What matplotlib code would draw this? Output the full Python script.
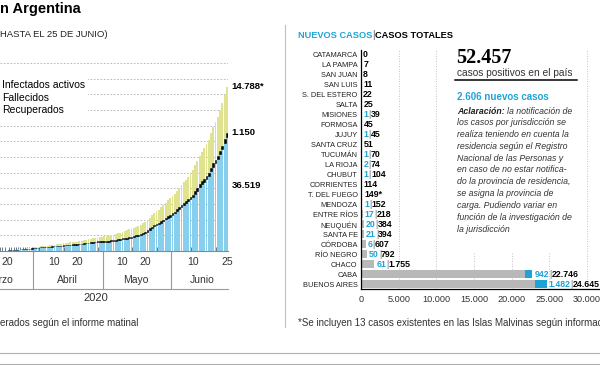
import matplotlib
matplotlib.use("Agg")
import matplotlib.pyplot as plt
from matplotlib.patches import Patch, Rectangle

plt.rcParams['font.family'] = ['Liberation Sans', 'DejaVu Sans']

AZUL = '#88cfee'
AMARILLO = '#dfe38f'
AZUL_TXT = '#1fa3d6'
GRIS = '#b8b8b8'

# acumulados diarios, del 17 de marzo al 25 de junio (dia 0 = 1 de marzo)
dia_inicio = 16
casos = [79, 97, 128, 158, 225, 266, 301, 387, 502, 589, 690, 745, 820, 966, 1054,
         1133, 1265, 1353, 1451, 1554, 1628, 1715, 1795, 1894, 1975, 2142, 2208, 2277, 2443, 2571,
         2669, 2758, 2839, 2941, 3031, 3144, 3288, 3435, 3607, 3780, 3892, 4003, 4127, 4285, 4428,
         4532, 4681, 4783, 4887, 5020, 5208, 5371, 5611, 5776, 6034, 6278, 6563, 6879, 7134, 7479,
         7805, 8068, 8371, 8809, 9283, 9931, 10649, 11353, 12076, 12628, 13228, 13933, 14702, 15419,
         16214, 16838,
         17415, 18319, 19268, 20197, 21037, 22020, 22794, 23620, 24761, 25987, 27373, 28764, 30295,
         31577, 32785, 34159, 35552, 37510, 39570, 41204, 42785, 44931, 47216, 49851, 52457]
fallecidos = [2, 2, 3, 3, 4, 4, 6, 8, 9, 13, 18, 19, 23, 24, 27,
              36, 39, 43, 44, 48, 56, 63, 72, 82, 83, 90, 95, 97, 102, 122,
              129, 132, 136, 137, 147, 152, 165, 176, 179, 185, 192, 197, 207, 214, 218,
              225, 237, 246, 260, 264, 273, 282, 293, 300, 305, 314, 319, 329, 353, 356,
              363, 373, 382, 393, 403, 416, 433, 445, 452, 467, 484, 500, 508, 520, 528, 539,
              556, 569, 583, 608, 632, 648, 664, 693, 717, 735, 765, 784, 815, 833, 854,
              878, 913, 948, 979, 992, 1011, 1043, 1078, 1116, 1150]
recuperados = [3, 3, 3, 3, 3, 3, 51, 52, 63, 72, 72, 91, 179, 228, 240,
               248, 256, 266, 279, 325, 338, 358, 375, 418, 440, 468, 515, 525, 596, 609,
               631, 685, 709, 737, 840, 872, 919, 976, 1030, 1075, 1107, 1140, 1192, 1245, 1256,
               1354, 1442, 1524, 1601, 1659, 1757, 1837, 1862, 1948, 2020, 2097, 2266, 2385, 2569, 2625,
               2741, 2872, 2893, 3035, 3172, 3357, 3445, 3635, 3749, 3946, 4167, 4349, 4688, 4788,
               5018, 5336,
               5381, 5716, 5896, 6180, 6490, 6666, 6826, 7022, 7489, 7991, 8332, 8779, 9070, 9346, 9843,
               10283, 10661, 11130, 11637, 12186, 12547, 13072, 13598, 14163, 14788]

dias_ticks = [19, 40, 50, 70, 80, 101, 116]
dias_labels = ['20', '10', '20', '10', '20', '10', '25']
meses = ['Marzo', 'Abril', 'Mayo', 'Junio']
meses_centro = [15.5, 45.5, 76, 105]
meses_limites = [30.5, 61.5, 91.5]

provincias = ['CATAMARCA', 'LA PAMPA', 'SAN JUAN', 'SAN LUIS', 'S. DEL ESTERO', 'SALTA',
              'MISIONES', 'FORMOSA', 'JUJUY', 'SANTA CRUZ', 'TUCUMÁN', 'LA RIOJA', 'CHUBUT',
              'CORRIENTES', 'T. DEL FUEGO', 'MENDOZA', 'ENTRE RÍOS', 'NEUQUÉN', 'SANTA FE',
              'CÓRDOBA', 'RÍO NEGRO', 'CHACO', 'CABA', 'BUENOS AIRES']
totales = [0, 7, 8, 11, 22, 25, 39, 45, 45, 51, 70, 74, 104, 114, 149, 152, 218, 384, 394,
           607, 792, 1755, 22746, 24645]
nuevos = [0, 0, 0, 0, 0, 0, 1, 0, 1, 0, 1, 2, 1, 0, 0, 1, 17, 20, 21, 6, 50, 61, 942, 1482]

aclaracion = ['la notificación de', 'los casos por jurisdicción se', 'realiza teniendo en cuenta la',
              'residencia según el Registro', 'Nacional de las Personas y',
              'en caso de no estar notifica-', 'do la provincia de residencia,',
              'se asigna la provincia de', 'carga. Pudiendo variar en',
              'función de la investigación de', 'la jurisdicción']


def fmt(v):
    return f"{v:,}".replace(',', '.')


W, H = 600, 365


def box(x0, y0, x1, y1):
    return [x0 / W, 1 - y1 / H, (x1 - x0) / W, (y1 - y0) / H]


fig = plt.figure(figsize=(6, 3.65), dpi=100)

# ---- evolucion ----
ax = fig.add_axes(box(0, 63, 228, 251))
dias = [dia_inicio + i for i in range(len(casos))]
activos = [c - f - r for c, f, r in zip(casos, fallecidos, recuperados)]
base2 = [a + f for a, f in zip(activos, fallecidos)]
ax.bar(dias, activos, width=0.8, color=AZUL, linewidth=0)
ax.bar(dias, fallecidos, bottom=activos, width=0.8, color='black', edgecolor='black', linewidth=0.4)
ax.bar(dias, recuperados, bottom=base2, width=0.8, color=AMARILLO, linewidth=0)
ax.set_xlim(16.9, 116.5)
ax.set_ylim(0, 60000)
ax.set_yticks(range(5000, 60001, 5000))
ax.set_yticklabels([])
ax.tick_params(axis='y', length=0)
ax.yaxis.grid(True, color='#b0b0b0', linestyle=(0, (2, 2)), linewidth=0.6)
ax.set_axisbelow(True)
for s in ['left', 'right', 'top']:
    ax.spines[s].set_visible(False)
ax.spines['bottom'].set_color('#888888')
ax.spines['bottom'].set_linewidth(0.8)
ax.set_xticks(dias_ticks, dias_labels)
ax.set_xticks(dias, minor=True)
ax.tick_params(axis='x', which='major', length=0, pad=4, labelsize=7.5, labelcolor='#333333')
ax.tick_params(axis='x', which='minor', direction='in', length=3, width=0.6, color='#4a6578')

ybot = -(289 - 251) / (251 - 63)
ymes = -(280 - 251) / (251 - 63)
trans = ax.get_xaxis_transform()
for d in meses_limites:
    ax.plot([d, d], [0, ybot], transform=trans, clip_on=False, color='#999999', lw=0.8)
ax.plot(ax.get_xlim(), [ybot, ybot], transform=trans, clip_on=False, color='#999999', lw=0.8)
for m, c in zip(meses, meses_centro):
    ax.text(c, ymes, m, transform=trans, ha='center', va='center', fontsize=7.5, color='#333333')

ax.annotate(fmt(recuperados[-1]) + '*', xy=(dias[-1], casos[-1]), xytext=(3.5, 0),
            textcoords='offset points', va='center', fontsize=6.8, fontweight='bold',
            annotation_clip=False)
ax.annotate(fmt(fallecidos[-1]), xy=(dias[-1], base2[-1]), xytext=(3.5, 0),
            textcoords='offset points', va='center', fontsize=6.8, fontweight='bold',
            annotation_clip=False)
ax.annotate(fmt(activos[-1]), xy=(dias[-1], activos[-1] * 0.57), xytext=(3.5, 0),
            textcoords='offset points', va='center', fontsize=6.8, fontweight='bold',
            annotation_clip=False)

handles = [Patch(color=AZUL), Patch(color='black'), Patch(color=AMARILLO)]
fig.legend(handles, ['Infectados activos', 'Fallecidos', 'Recuperados'], loc='upper left',
           bbox_to_anchor=(-16 / W, 1 - 77 / H), fontsize=7.5, frameon=True, facecolor='white',
           edgecolor='none', framealpha=1, fancybox=False, borderpad=0.3, handlelength=1.0,
           handletextpad=0.4, labelspacing=0.25, borderaxespad=0)

# ---- provincias ----
ax2 = fig.add_axes(box(361, 50, 600, 289))
pos = list(range(len(provincias)))
ax2.barh(pos, totales, height=0.8, color=GRIS, linewidth=0)
ax2.barh(pos, nuevos, left=[t - n for t, n in zip(totales, nuevos)], height=0.8,
         color=AZUL_TXT, linewidth=0)
ax2.set_ylim(len(provincias) - 0.5, -0.5)
ax2.set_xlim(0, 31726)
ax2.set_yticks(pos, provincias)
ax2.set_xticks(range(0, 30001, 5000), [fmt(v) for v in range(0, 30001, 5000)])
ax2.tick_params(axis='y', length=0, pad=2.5, labelsize=5.3, labelcolor='#222222')
ax2.tick_params(axis='x', length=0, pad=4, labelsize=6.6, labelcolor='#333333')
ax2.xaxis.grid(True, color='#b0b0b0', linestyle=(0, (1, 2)), linewidth=0.6)
ax2.set_axisbelow(True)
for s in ['right', 'top']:
    ax2.spines[s].set_visible(False)
ax2.spines['left'].set_linewidth(0.9)
ax2.spines['bottom'].set_linewidth(0.9)

for i, (t, n) in enumerate(zip(totales, nuevos)):
    txt_total = fmt(t) + ('*' if provincias[i] == 'T. DEL FUEGO' else '')
    kw = dict(va='center', ha='left', fontsize=6.3, fontweight='bold', annotation_clip=False)
    if n > 0:
        t1 = ax2.annotate(fmt(n), xy=(t, i), xytext=(1.5, 0), textcoords='offset points',
                          color=AZUL_TXT, **kw)
        t2 = ax2.annotate('|', xy=(1, 0.5), xycoords=t1, color='#777777',
                          va='center', ha='left', fontsize=6.3, annotation_clip=False)
        ax2.annotate(txt_total, xy=(1, 0.5), xycoords=t2, color='black', **kw)
    else:
        ax2.annotate(txt_total, xy=(t, i), xytext=(1.5, 0), textcoords='offset points',
                     color='black', **kw)

# ---- textos y marco ----
ov = fig.add_axes([0, 0, 1, 1])
ov.set_xlim(0, W)
ov.set_ylim(H, 0)
ov.axis('off')
ov.set_zorder(10)
ov.patch.set_visible(False)

ov.text(-0.5, 13.5, 'n Argentina', fontsize=10.5, fontweight='bold', va='baseline')
ov.text(0, 34.5, 'HASTA EL 25 DE JUNIO)', fontsize=6.8, va='center', color='#222222')
ov.text(96, 298, '2020', fontsize=8, ha='center', va='center', color='#333333')
ov.text(0, 323, 'erados según el informe matinal', fontsize=7, va='center', color='#333333')
ov.text(298, 323, '*Se incluyen 13 casos existentes en las Islas Malvinas según información',
        fontsize=7, va='center', color='#333333')

h1 = ov.annotate('NUEVOS CASOS', xy=(298, 35), va='center', ha='left', fontsize=6.7,
                 fontweight='bold', color=AZUL_TXT)
h2 = ov.annotate('|', xy=(1, 0.5), xycoords=h1, va='center', ha='left', fontsize=7,
                 color='#555555')
ov.annotate('CASOS TOTALES', xy=(1, 0.5), xycoords=h2, va='center', ha='left', fontsize=6.7,
            fontweight='bold', color='black')

ov.plot([285, 285], [25, 327], color='#c0c0c0', lw=0.8)
ov.plot([0, W], [352.5, 352.5], color='#b0b0b0', lw=0.8)
ov.plot([0, W], [363.5, 363.5], color='#b0b0b0', lw=0.8)

ov.add_patch(Rectangle((452, 38), 131, 214, facecolor='white', edgecolor='none'))
ov.text(456, 63, fmt(casos[-1]), fontsize=14.5, fontweight='bold', va='baseline',
        family=['Liberation Serif', 'DejaVu Serif'])
ov.text(457, 72.5, 'casos positivos en el país', fontsize=7.3, va='center', color='#333333')
ov.plot([455, 577], [80, 80], color='black', lw=1.1)
ov.text(457, 97, fmt(sum(nuevos)) + ' nuevos casos', fontsize=7, fontweight='bold',
        va='center', color=AZUL_TXT)
a1 = ov.annotate('Aclaración: ', xy=(457, 111), va='center', ha='left', fontsize=6.3,
                 fontweight='bold', style='italic', color='#222222')
ov.annotate(aclaracion[0], xy=(1, 0.5), xycoords=a1, va='center', ha='left', fontsize=6.3,
            style='italic', color='#333333')
for k, linea in enumerate(aclaracion[1:], start=1):
    ov.text(457, 111 + 11.8 * k, linea, fontsize=6.3, style='italic', va='center',
            color='#333333')

fig.savefig('out.png', dpi=100)
